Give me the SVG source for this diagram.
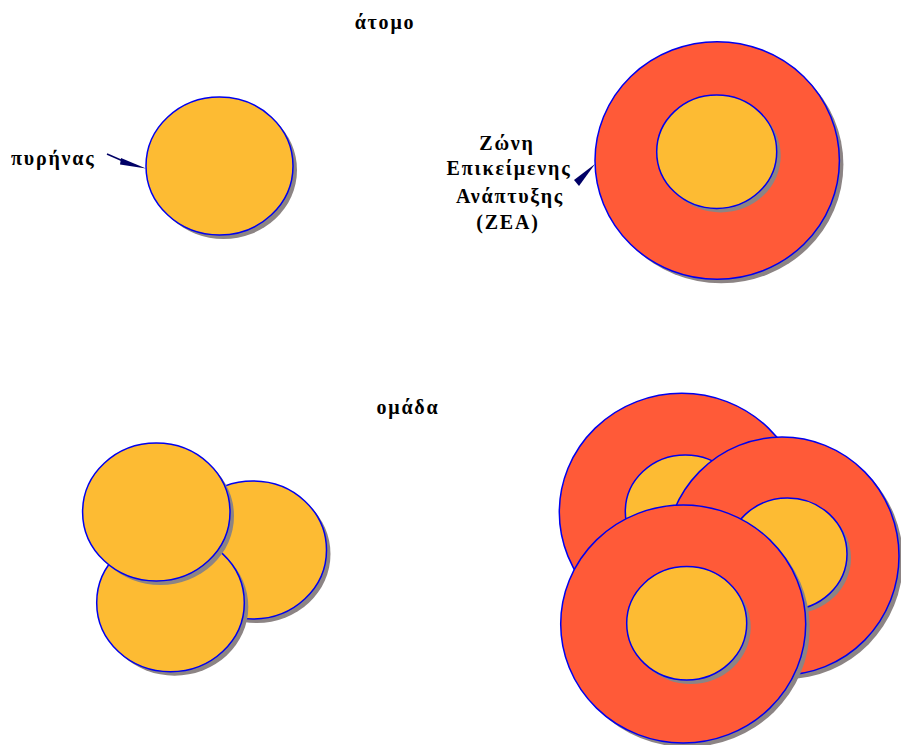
<svg xmlns="http://www.w3.org/2000/svg" width="901" height="745" viewBox="0 0 901 745">
<style>
.sh{fill:#8c8484}
.nu{fill:#fdbb33;stroke:#0000ee;stroke-width:1.5}
.ze{fill:#ff5a38;stroke:#0000ee;stroke-width:1.5}
.t{font-family:"Liberation Serif","Times New Roman",serif;font-weight:bold;font-size:20px;fill:#000;letter-spacing:1.8px}
.ah{fill:#000066}
</style>
<rect width="901" height="745" fill="#fff"/>
<text class="t" x="385" y="29" text-anchor="middle">άτομο</text>
<text class="t" x="408" y="414" text-anchor="middle">ομάδα</text>

<g id="atom-nucleus">
<ellipse class="sh" cx="223.5" cy="170" rx="73.5" ry="69"/>
<ellipse class="nu" cx="219.5" cy="166" rx="73.5" ry="69"/>
</g>

<g id="atom-zea">
<ellipse class="sh" cx="721.2" cy="164.5" rx="122.2" ry="118.8"/>
<ellipse class="ze" cx="717.2" cy="160.5" rx="122.2" ry="118.8"/>
<ellipse class="sh" cx="720.7" cy="155.7" rx="60" ry="56.7"/>
<ellipse class="nu" cx="716.7" cy="151.7" rx="60" ry="56.7"/>
</g>

<g id="label-nucleus">
<text class="t" x="11" y="165">πυρήνας</text>
</g>
<g id="label-zea" class="t" text-anchor="middle">
<text x="507" y="150">Ζώνη</text>
<text x="509" y="175">Επικείμενης</text>
<text x="510" y="203">Ανάπτυξης</text>
<text x="508" y="229">(ZEA)</text>
</g>

<g id="connectors">
<line x1="107" y1="154" x2="123" y2="161" stroke="#000066" stroke-width="1.5"/>
<polygon class="ah" points="121,158 120,164.5 146,168.5"/>
<polygon class="ah" points="574,180 579,186 595,164"/>
</g>

<g id="group-nuclei">
<g id="gn-right">
<ellipse class="sh" cx="257" cy="554" rx="73.5" ry="69"/>
<ellipse class="nu" cx="253" cy="550" rx="73.5" ry="69"/>
</g>
<g id="gn-bottom">
<ellipse class="sh" cx="174.5" cy="606.7" rx="73.8" ry="69"/>
<ellipse class="nu" cx="170.5" cy="602.7" rx="73.8" ry="69"/>
</g>
<g id="gn-top">
<ellipse class="sh" cx="160.3" cy="516" rx="73.7" ry="69"/>
<ellipse class="nu" cx="156.3" cy="512" rx="73.7" ry="69"/>
</g>
</g>

<g id="group-zea">
<g id="gz-back">
<ellipse class="sh" cx="685.8" cy="516.3" rx="122.5" ry="119"/>
<ellipse class="ze" cx="681.8" cy="512.3" rx="122.5" ry="119"/>
<ellipse class="sh" cx="689.3" cy="515.5" rx="60" ry="56.5"/>
<ellipse class="nu" cx="685.3" cy="511.5" rx="60" ry="56.5"/>
</g>
<g id="gz-right">
<ellipse class="sh" cx="786" cy="560" rx="117" ry="119"/>
<ellipse class="ze" cx="782" cy="556" rx="117" ry="119"/>
<ellipse class="sh" cx="791.5" cy="558" rx="59.5" ry="56"/>
<ellipse class="nu" cx="787.5" cy="554" rx="59.5" ry="56"/>
</g>
<g id="gz-front">
<ellipse class="sh" cx="687.2" cy="628" rx="122.5" ry="119"/>
<ellipse class="ze" cx="683.2" cy="624" rx="122.5" ry="119"/>
<ellipse class="sh" cx="690.7" cy="627.3" rx="60" ry="56.7"/>
<ellipse class="nu" cx="686.7" cy="623.3" rx="60" ry="56.7"/>
</g>
</g>
</svg>
